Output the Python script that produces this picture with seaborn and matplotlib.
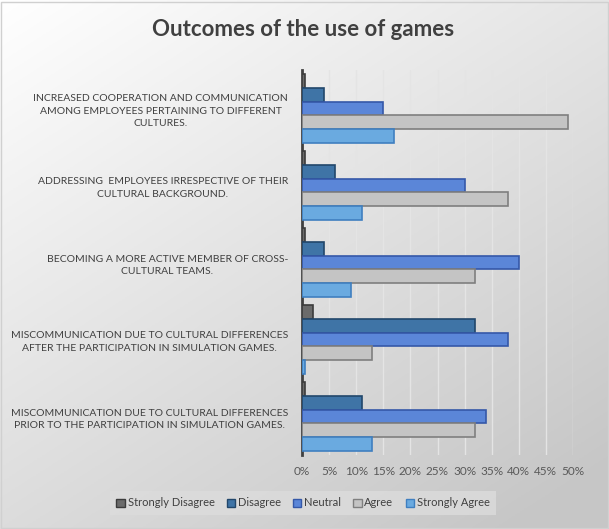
import numpy as np
import pandas as pd
import matplotlib
matplotlib.use("Agg")
import matplotlib.pyplot as plt
from matplotlib.patches import Rectangle
import seaborn as sns

categories = [
    "INCREASED COOPERATION AND COMMUNICATION\nAMONG EMPLOYEES PERTAINING TO DIFFERENT\nCULTURES.",
    "ADDRESSING  EMPLOYEES IRRESPECTIVE OF THEIR\nCULTURAL BACKGROUND.",
    "BECOMING A MORE ACTIVE MEMBER OF CROSS-\nCULTURAL TEAMS.",
    "MISCOMMUNICATION DUE TO CULTURAL DIFFERENCES\nAFTER THE PARTICIPATION IN SIMULATION GAMES.",
    "MISCOMMUNICATION DUE TO CULTURAL DIFFERENCES\nPRIOR TO THE PARTICIPATION IN SIMULATION GAMES.",
]
series = ["Strongly Disagree", "Disagree", "Neutral", "Agree", "Strongly Agree"]
strongly_disagree = [0.5, 0.5, 0.5, 2, 0.5]
disagree = [4, 6, 4, 32, 11]
neutral = [15, 30, 40, 38, 34]
agree = [49, 38, 32, 13, 32]
strongly_agree = [17, 11, 9, 0.5, 13]
xticks = [0, 5, 10, 15, 20, 25, 30, 35, 40, 45, 50]
xtick_labels = [f"{t}%" for t in xticks]

colors = ["#6b6b6b", "#3f74a6", "#5b86d8", "#c4c4c4", "#6aaae0"]
edges = ["#3c3c3c", "#22476b", "#3558a8", "#7f7f7f", "#3f7fc0"]

FONT = ["Lato", "DejaVu Sans"]

rows = []
for s, vals in zip(series, [strongly_disagree, disagree, neutral, agree, strongly_agree]):
    for c, v in zip(categories, vals):
        rows.append({"Category": c, "Series": s, "Value": v})
df = pd.DataFrame(rows)

W, H = 609, 529
fig = plt.figure(figsize=(W / 100, H / 100), dpi=100)

# gradient background
bg = fig.add_axes([0, 0, 1, 1], zorder=-10)
yy, xx = np.mgrid[0:1:200j, 0:1:200j]
g = 1.0 - 0.22 * np.clip((0.55 * xx + 0.75 * yy), 0, 1.2) / 1.2
bg.imshow(np.dstack([g, g, g]), aspect="auto", extent=[0, 1, 0, 1], origin="upper")
bg.add_patch(Rectangle((0.001, 0.002), 0.997, 0.995, transform=bg.transAxes,
                       fill=False, ec="#d0d0d0", lw=1))
bg.set_axis_off()

ax = fig.add_axes([302 / W, 1 - 455 / H, (573 - 302) / W, (455 - 70) / H])
ax.set_facecolor("none")
sns.barplot(data=df, y="Category", x="Value", hue="Series", order=categories,
            hue_order=series, palette=colors, orient="h", ax=ax, width=0.9,
            saturation=1, legend=True, zorder=3)
for cont, ec in zip(ax.containers, edges):
    for p in cont.patches:
        p.set_edgecolor(ec)
        p.set_linewidth(1.2)

ax.set_xlim(0, 50)
ax.set_xticks(xticks)
ax.set_xticklabels(xtick_labels)
ax.set_xlabel("")
ax.set_ylabel("")
ax.grid(axis="x", color="#e4e4e4", lw=1, zorder=0)
ax.set_axisbelow(True)
for side in ["top", "right", "bottom"]:
    ax.spines[side].set_visible(False)
ax.spines["left"].set_color("#404040")
ax.spines["left"].set_linewidth(2)
ax.tick_params(axis="both", length=0)
ax.tick_params(axis="x", pad=8)
ax.tick_params(axis="y", pad=10)
for lab in ax.get_yticklabels():
    lab.set_fontfamily(FONT)
    lab.set_fontsize(7.5)
    lab.set_color("#404040")
    lab.set_multialignment("center")
    lab.set_linespacing(1.45)
for lab in ax.get_xticklabels():
    lab.set_fontfamily(FONT)
    lab.set_fontsize(8.5)
    lab.set_color("#595959")

h, l = ax.get_legend_handles_labels()
ax.legend_.remove()
for hd, ec in zip(h, edges):
    hd.set_edgecolor(ec)
    hd.set_linewidth(1)
leg = fig.legend(h, l, loc="center", bbox_to_anchor=(303 / W, 1 - 503 / H), ncol=5,
                 frameon=True, fancybox=False, facecolor="#dcdcdc", edgecolor="none",
                 framealpha=0.8, handlelength=0.75, handleheight=0.75, handletextpad=0.25,
                 columnspacing=1.1, borderpad=0.55,
                 prop={"family": FONT, "size": 8})
for t in leg.get_texts():
    t.set_color("#404040")

fig.text(303 / W, 1 - 30 / H, "Outcomes of the use of games", ha="center", va="center",
         fontsize=16, fontweight="bold", color="#404040", family=FONT)

fig.savefig("out.png", dpi=100)
